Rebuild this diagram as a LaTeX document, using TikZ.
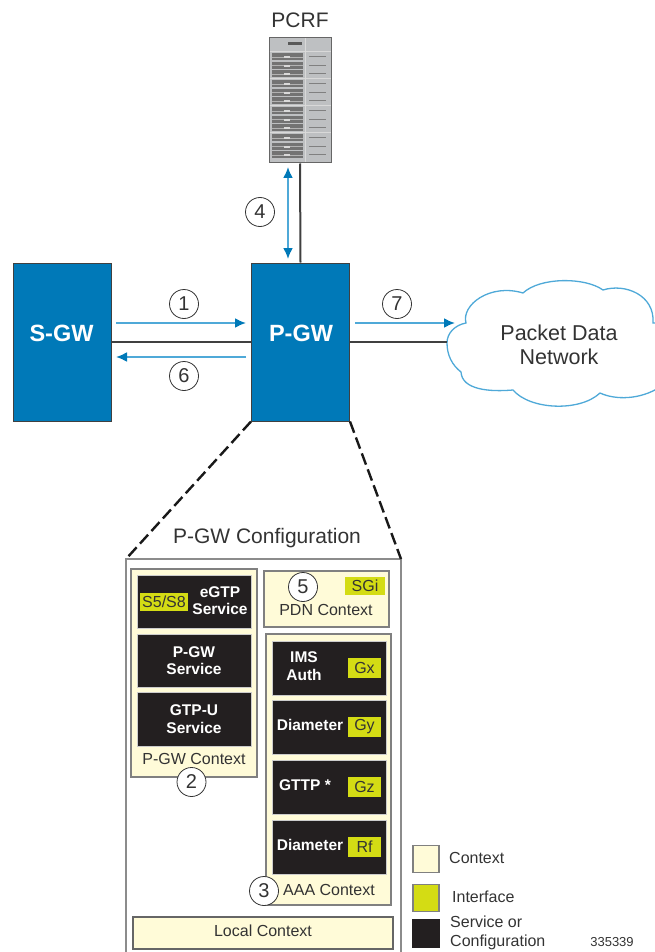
\documentclass[tikz,border=0pt]{standalone}
\usepackage{fontspec}
\setmainfont{Liberation Sans}
\usetikzlibrary{arrows.meta}
\definecolor{gwblue}{HTML}{0079B8}
\definecolor{linkblue}{HTML}{4FA9D8}
\definecolor{ctxyellow}{HTML}{FFFBD8}
\definecolor{ifgreen}{HTML}{D4DC14}
\definecolor{svcblack}{HTML}{231F20}
\definecolor{rackgray}{HTML}{BEC0C2}
\tikzset{
	gwbox/.style={draw=black!75,fill=gwblue,line width=1pt,minimum width=98pt,minimum height=158pt},
	gwlbl/.style={inner sep=0pt,text=white,font=\fontsize{23.5}{26}\selectfont\bfseries},
	stepnum/.style={draw=black!80,fill=white,circle,line width=.8pt,minimum size=29pt,inner sep=0pt,text=black!80,font=\fontsize{20}{22}\selectfont},
	ctxbox/.style={draw=black!50,fill=ctxyellow,line width=1.2pt,inner sep=0pt},
	svcbox/.style={draw=black!20,fill=svcblack,line width=.6pt,inner sep=0pt,text=white,align=center,font=\fontsize{15.5}{17.5}\selectfont\bfseries},
	ifbox/.style={fill=ifgreen,inner sep=0pt,text=black!80,font=\fontsize{16}{18}\selectfont},
	lbl/.style={inner sep=0pt,text=black!80,align=center,font=\fontsize{16}{18}\selectfont},
	legendlbl/.style={lbl,anchor=west,align=left,font=\fontsize{16}{18.5}\selectfont},
	wire/.style={draw=black!75,line width=2pt},
	flow/.style={draw=linkblue,line width=2pt,-{Latex[length=11pt,width=10pt,color=gwblue]}},
	zoomline/.style={draw=black!90,line width=2.4pt,dash pattern=on 12pt off 5pt},
}
\begin{document}
\begin{tikzpicture}[x=1pt,y=-1pt]
	\useasboundingbox (0,0) rectangle (654,952);
	% rack
	\node[lbl,font=\fontsize{21}{24}\selectfont] (pcrflbl) at (300,20) {PCRF};
	\node[draw=black!60,fill=rackgray,line width=1pt,minimum width=62pt,minimum height=125pt,inner sep=0pt] (pcrf) at (300,100.5) {};
	\fill[black!65] (288,42.5) rectangle (302,45.5);
	\draw[white!85!black] (305,38.5)--(305,162.5);
	\foreach \y in {52,79,106,133}{
		\draw[white!85!black,line width=1pt] (269.5,\y)--(330.5,\y);
		\foreach \d in {1.5,10,18.5}{
			\fill[black!55] (272,\y+\d) rectangle (303,\y+\d+7);
			\draw[black!30,line width=.7pt] (272,\y+\d+3.5)--(303,\y+\d+3.5);
			\fill[white!85!black] (284,\y+\d+3) rectangle (290,\y+\d+5);
			\draw[black!50,line width=1pt] (309,\y+\d+3.5)--(326,\y+\d+3.5);
		}
	}
	% gateways
	\node[gwbox] (sgw) at (62.5,342) {};
	\node[gwbox] (pgw) at (300.5,342) {};
	\node[gwlbl] (sgwlbl) at (61.5,333) {S-GW};
	\node[gwlbl] (pgwlbl) at (301,333) {P-GW};
	% cloud
	\draw[draw=linkblue,fill=white,line width=1.3pt] (447,343)
		.. controls (447,333) and (455,325) .. (466,323)
		.. controls (461,305) and (490,283) .. (523,293)
		.. controls (540,277) and (585,277) .. (603,290)
		.. controls (625,283) and (655,295) .. (653,323)
		-- (660,323) -- (660,387)
		.. controls (640,400) and (615,400) .. (600,393)
		.. controls (580,412) and (530,410) .. (513,390)
		.. controls (490,392) and (462,390) .. (461,372)
		.. controls (452,365) and (447,355) .. (447,343) -- cycle;
	\node[lbl,font=\fontsize{21.5}{24}\selectfont] (pdn) at (559,345) {Packet Data\\Network};
	\coordinate (pdnedge) at (447,342);
	% links
	\draw[wire] (sgw.east|-0,342)--(pgw.west|-0,342);
	\draw[wire] (pgw.east|-0,342)--(pdnedge);
	\draw[wire] (pcrf.south)--(pgw.north);
	\coordinate (a1s) at (116,323); \coordinate (a1e) at (246,323);
	\coordinate (a6s) at (246,357); \coordinate (a6e) at (116,357);
	\coordinate (a7s) at (355,323); \coordinate (a7e) at (455,323);
	\coordinate (a4s) at (288,167); \coordinate (a4e) at (288,259);
	\draw[flow] (a1s)--(a1e);
	\draw[flow] (a6s)--(a6e);
	\draw[flow] (a7s)--(a7e);
	\draw[flow,{Latex[length=11pt,width=10pt,color=gwblue]}-{Latex[length=11pt,width=10pt,color=gwblue]}] (a4s)--(a4e);
	\node[stepnum] (n1) at (184,304) {1};
	\node[stepnum] (n4) at (260,212) {4};
	\node[stepnum] (n6) at (184,376) {6};
	\node[stepnum] (n7) at (397,304) {7};
	% configuration
	\node[lbl,font=\fontsize{21}{24}\selectfont] (cfgtitle) at (267,538) {P-GW Configuration};
	\coordinate (cfgl) at (126,559);
	\coordinate (cfgr) at (401,559);
	\draw[draw=black!45,line width=1.8pt] (cfgl)--(cfgr)--(401,953)--(126,953)--cycle;
	\draw[zoomline] (pgw.south west)--(cfgl);
	\draw[zoomline] (pgw.south east)--(cfgr);
	% p-gw context
	\node[ctxbox,minimum width=126pt,minimum height=208pt] (pgwctx) at (194,673) {};
	\node[svcbox,minimum width=114pt,minimum height=53pt] (egtp) at (194,601.5) {};
	\node[svcbox,minimum width=114pt,minimum height=53pt] (pgwsvc) at (194,660.5) {P-GW\\Service};
	\node[svcbox,minimum width=114pt,minimum height=54pt] (gtpu) at (194,719) {GTP-U\\Service};
	\node[ifbox,minimum width=48pt,minimum height=18pt] (s5s8) at (164,602) {S5/S8};
	\node[lbl,text=white,font=\fontsize{15.5}{17.5}\selectfont\bfseries] (egtplbl) at (220,600.5) {eGTP\\Service};
	\node[lbl] (pgwctxlbl) at (194,759) {P-GW Context};
	\node[stepnum] (n2) at (191.5,782) {2};
	% pdn context
	\node[ctxbox,minimum width=125pt,minimum height=56pt] (pdnctx) at (326.5,599) {};
	\node[ifbox,minimum width=40pt,minimum height=18pt] (sgi) at (365,586) {SGi};
	\node[stepnum] (n5) at (303,587) {5};
	\node[lbl] (pdnctxlbl) at (326,610) {PDN Context};
	% aaa context
	\node[ctxbox,minimum width=125pt,minimum height=271pt] (aaactx) at (328.5,769.5) {};
	\foreach \nm/\yc/\txt/\tx/\ifc in {gx/668/{IMS\\Auth}/304/Gx,gy/727/Diameter/310/Gy,gz/787/{GTTP *}/305/Gz,rf/847/Diameter/310/Rf}{
		\node[svcbox,minimum width=114pt,minimum height=54pt] (\nm svc) at (329,\yc) {};
		\node[lbl,text=white,font=\fontsize{15.5}{17.5}\selectfont\bfseries] (\nm lbl) at (\tx,\yc-2) {\txt};
		\node[ifbox,minimum width=33pt,minimum height=20pt] (\nm) at (364.5,\yc) {\ifc};
	}
	\node[stepnum] (n3) at (264,891) {3};
	\node[lbl] (aaalbl) at (329,890) {AAA Context};
	% local context
	\node[ctxbox,minimum width=260pt,minimum height=32pt,draw=black!60] (localctx) at (263,933) {};
	\node[lbl] (localctxlbl) at (263,930.5) {Local Context};
	% legend
	\node[ctxbox,minimum width=26pt,minimum height=27pt] (kctx) at (426,859) {};
	\node[ifbox,draw=black!50,line width=1.2pt,minimum width=26pt,minimum height=27pt] (kif) at (426,898) {};
	\node[fill=svcblack,inner sep=0pt,minimum width=28pt,minimum height=29pt] (ksvc) at (426,933) {};
	\node[legendlbl] (kctxlbl) at (449,858) {Context};
	\node[legendlbl] (kiflbl) at (452,897) {Interface};
	\node[legendlbl] (ksvclbl) at (450,933) {Service or\\Configuration};
	\node[lbl,font=\fontsize{13}{15}\selectfont] (figid) at (612,942) {335339};
\end{tikzpicture}
\end{document}
